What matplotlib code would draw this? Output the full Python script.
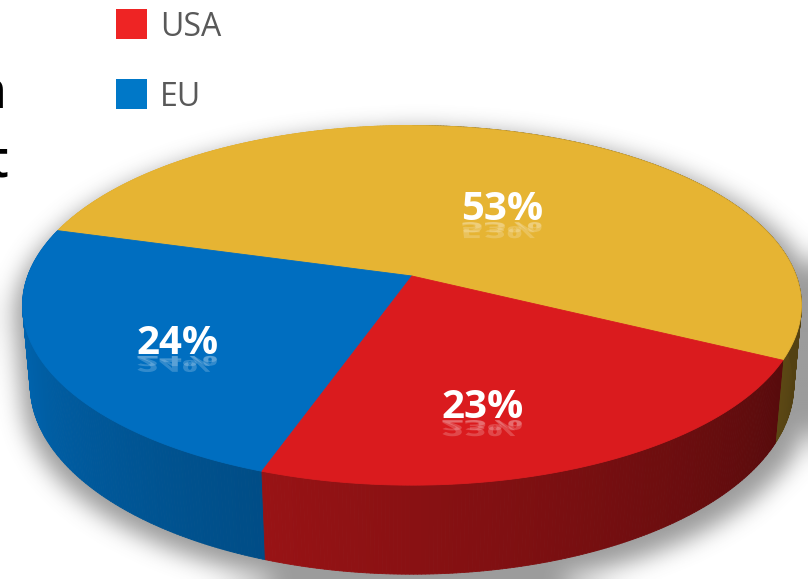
import numpy as np
import matplotlib
matplotlib.use("Agg")
import matplotlib.pyplot as plt
from matplotlib.collections import PolyCollection
from matplotlib.patches import Polygon, Rectangle, PathPatch
from matplotlib.textpath import TextPath
from matplotlib.font_manager import FontProperties
from matplotlib.path import Path
import matplotlib.transforms as mtransforms

# data
categories = ["Other", "EU", "USA"]
shares = [53, 24, 23]
slice_colors = ["#E6B433", "#006EC0", "#DA1B1E"]
legend_names = ["USA", "EU"]
legend_colors = ["#EE2424", "#0078C8"]
title_tail = ["n", "t"]

# camera / pie geometry (px canvas 808x579)
W, H = 808, 579
cx, cy = 412, 276
D = 5.46
phi = np.radians(27.1)
depth = 0.235
scale = 2098
start_angle = -26.5
label_r = [0.5, 0.67, 0.67]
label_shift = [-9, 3, -8]


def project(X, Y, Z):
    c, s = np.cos(phi), np.sin(phi)
    py = Y + D * c
    pz = Z - D * s
    d = py * c - pz * s
    return cx + scale * X / d, cy - scale * (py * s + pz * c) / d


def ring(t, z, r=1.0):
    return project(r * np.cos(t), r * np.sin(t), z)


def shade(deg):
    d = (deg - 90) % 360 + 90
    return np.clip(0.9 - 0.0036 * (d - 195), 0.36, 0.92)


fig = plt.figure(figsize=(W / 100, H / 100), dpi=100)
ax = fig.add_axes([0, 0, 1, 1])
ax.set_xlim(0, W)
ax.set_ylim(H, 0)
ax.axis("off")

# soft drop shadow
step = 2
gx, gy = np.meshgrid(np.arange(0, W, step) + 0.5, np.arange(0, H, step) + 0.5)
pts = np.column_stack([gx.ravel(), gy.ravel()])
mask = np.zeros(len(pts), bool)
tt = np.linspace(0, 2 * np.pi, 200)
for z in np.linspace(0, -depth, 8):
    rx, ry = ring(tt, z, 1.035)
    mask |= Path(np.column_stack([rx + 5, ry + 9])).contains_points(pts)
mask = mask.reshape(gx.shape).astype(float)


def box_blur(a, r):
    k = 2 * r + 1
    for axis in (0, 1):
        pad = [(0, 0), (0, 0)]
        pad[axis] = (r + 1, r)
        p = np.pad(a, pad, mode="edge")
        c = np.cumsum(p, axis=axis)
        if axis == 0:
            a = (c[k:] - c[:-k]) / k
        else:
            a = (c[:, k:] - c[:, :-k]) / k
    return a


for _ in range(3):
    mask = box_blur(mask, 5)
shadow = np.zeros(mask.shape + (4,))
shadow[..., :3] = 0.4
shadow[..., 3] = 0.65 * mask
ax.imshow(shadow, extent=(0, W, H, 0), interpolation="bilinear", zorder=0)

# slice angles
bounds = start_angle + 360 * np.concatenate([[0], np.cumsum(shares)]) / sum(shares)

# side walls
quads, qcols = [], []
for i, col in enumerate(slice_colors):
    rgb = np.array(matplotlib.colors.to_rgb(col))
    a = np.arange(bounds[i], bounds[i + 1], 0.5)
    a = np.append(a, bounds[i + 1])
    for a1, a2 in zip(a[:-1], a[1:]):
        t = np.radians([a1, a2])
        x0, y0 = ring(t, 0)
        x1, y1 = ring(t, -depth)
        quads.append([(x0[0], y0[0]), (x0[1], y0[1]), (x1[1], y1[1]), (x1[0], y1[0])])
        qcols.append(rgb * shade((a1 + a2) / 2))
ax.add_collection(PolyCollection(quads, facecolors=qcols, edgecolors=qcols,
                                 linewidths=0.6, zorder=2))

# top faces
for i, col in enumerate(slice_colors):
    t = np.radians(np.linspace(bounds[i], bounds[i + 1], 150))
    x, y = ring(t, 0)
    verts = np.column_stack([np.r_[cx, x], np.r_[cy, y]])
    ax.add_patch(Polygon(verts, closed=True, fc=col, ec=col, lw=0.6, zorder=3))

# labels with reflection
fsize = 29
fp = FontProperties(family=["Open Sans", "DejaVu Sans"], weight="bold", size=fsize)
for i, v in enumerate(shares):
    mid = np.radians((bounds[i] + bounds[i + 1]) / 2 + label_shift[i])
    lx, ly = ring(mid, 0, label_r[i])
    base = ly + 15
    txt = f"{v}%"
    ax.text(lx, base, txt, color="white", fontproperties=fp, ha="center",
            va="baseline", zorder=6)
    tp = TextPath((0, 0), txt, size=fsize * 100 / 72, prop=fp)
    ext = tp.get_extents()
    w = ext.x0 + ext.x1
    for sy, al in [(0.55, 0.2), (0.35, 0.2)]:
        tr = (mtransforms.Affine2D().translate(-w / 2, 0).scale(1, sy)
              .translate(lx, base + 2) + ax.transData)
        ax.add_patch(PathPatch(tp, transform=tr, fc="white", ec="none",
                               alpha=al, zorder=5))

# legend
lfp = FontProperties(family=["Open Sans", "DejaVu Sans"], size=23)
for j, (name, col) in enumerate(zip(legend_names, legend_colors)):
    top = 9 + j * 70
    ax.add_patch(Rectangle((116, top), 31, 30, fc=col, ec="none", zorder=6))
    ax.text(160, top + 27, name, color="#595959", fontproperties=lfp,
            va="baseline", ha="left", zorder=6)

# clipped title fragment on the left edge
tfp = FontProperties(family=["Open Sans", "DejaVu Sans"], weight="semibold", size=36)
for j, (ch, xr) in enumerate(zip(title_tail, [7, 9])):
    ax.text(xr, 108 + j * 70, ch, color="black", fontproperties=tfp,
            ha="right", va="baseline", zorder=6)

fig.savefig("out.png", dpi=100)
